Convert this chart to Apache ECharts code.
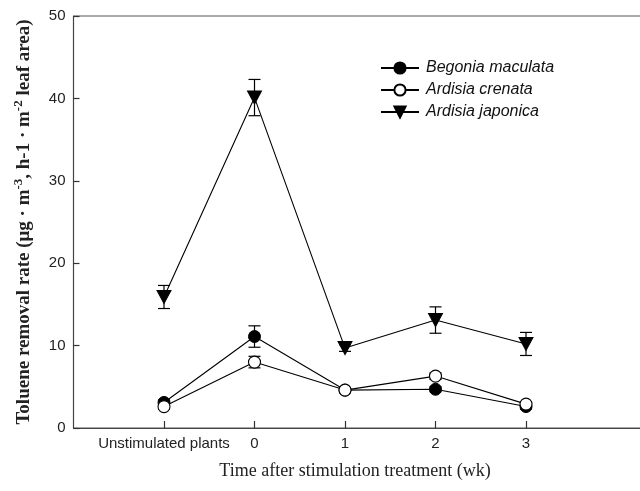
<!DOCTYPE html>
<html>
<head>
<meta charset="utf-8">
<script src="https://cdn.jsdelivr.net/npm/echarts@6/dist/echarts.min.js"></script>
<style>
  html, body { margin: 0; padding: 0; background: #fff; }
  #chart { width: 640px; height: 491px; }
</style>
</head>
<body>
<div id="chart"></div>
<script>
// Sampling times (x positions 1..5 on the value axis)
const categories = ['Unstimulated plants', '0', '1', '2', '3'];

// Toluene removal rate, mean and standard error per species
const begonia = [3.1, 11.1, 4.6, 4.7, 2.6];
const begoniaErr = [0.3, 1.3, 0.3, 0.3, 0.3];
const crenata = [2.6, 8.0, 4.6, 6.3, 2.9];
const crenataErr = [0.3, 0.7, 0.2, 0.4, 0.3];
const japonica = [15.9, 40.1, 9.7, 13.1, 10.2];
const japonicaErr = [1.4, 2.2, 0.4, 1.6, 1.4];

const yTicks = [0, 10, 20, 30, 40, 50];

const pts = vals => vals.map((v, i) => [i + 1, v]);
const errPts = (vals, errs) => vals.map((v, i) => [i + 1, v - errs[i], v + errs[i]]);

function errorBars(name, vals, errs) {
  return {
    type: 'custom',
    name: name + ' SE',
    data: errPts(vals, errs),
    z: 1,
    silent: true,
    renderItem: function (params, api) {
      const x = api.value(0);
      const lo = api.coord([x, api.value(1)]);
      const hi = api.coord([x, api.value(2)]);
      const cap = 6;
      const st = { stroke: '#000', lineWidth: 1.2 };
      return {
        type: 'group',
        children: [
          { type: 'line', shape: { x1: lo[0], y1: lo[1], x2: hi[0], y2: hi[1] }, style: st },
          { type: 'line', shape: { x1: lo[0] - cap, y1: lo[1], x2: lo[0] + cap, y2: lo[1] }, style: st },
          { type: 'line', shape: { x1: hi[0] - cap, y1: hi[1], x2: hi[0] + cap, y2: hi[1] }, style: st }
        ]
      };
    }
  };
}

const lineBase = {
  type: 'line',
  lineStyle: { color: '#000', width: 1.1 },
  z: 3
};

const chart = echarts.init(document.getElementById('chart'), null, { renderer: 'canvas' });

chart.setOption({
  animation: false,
  backgroundColor: '#fff',
  grid: {
    left: 73.5, top: 16, right: -21.75, bottom: 63,
    outerBoundsMode: 'none',
    containLabel: false,
    show: true, borderColor: '#555', borderWidth: 1
  },
  legend: {
    orient: 'vertical',
    left: 380,
    top: 60,
    padding: 0,
    itemWidth: 38,
    itemHeight: 14,
    itemGap: 6,
    data: ['Begonia maculata', 'Ardisia crenata', 'Ardisia japonica'],
    textStyle: { fontFamily: 'Liberation Sans, Arial, sans-serif', fontSize: 16, fontStyle: 'italic', color: '#111', padding: [0, 0, 0, 2] }
  },
  xAxis: {
    type: 'value',
    min: 0,
    max: 6.5,
    interval: 1,
    splitLine: { show: false },
    axisLine: { lineStyle: { color: '#444', width: 1.2 } },
    axisTick: {
      inside: true, length: 7, customValues: [1, 2, 3, 4, 5],
      lineStyle: { color: '#333', width: 1.2 }
    },
    axisLabel: {
      customValues: [1, 2, 3, 4, 5],
      formatter: v => categories[Math.round(v) - 1] || '',
      fontFamily: 'Liberation Sans, Arial, sans-serif',
      fontSize: 15, color: '#222', margin: 8
    }
  },
  yAxis: {
    type: 'value',
    min: 0, max: 50, interval: 10,
    splitLine: { show: false },
    axisLine: { show: true, lineStyle: { color: '#444', width: 1.2 } },
    axisTick: { show: true, inside: true, length: 6, lineStyle: { color: '#333', width: 1.2 } },
    axisLabel: {
      customValues: yTicks,
      fontFamily: 'Liberation Sans, Arial, sans-serif',
      fontSize: 15, color: '#222', margin: 8
    },
    name: '{b|Toluene removal rate (μg · m}{s|-3}{b|, h-1 · m}{s|-2}{b| leaf area)}',
    nameLocation: 'middle',
    nameRotate: 90,
    nameGap: 38,
    nameTextStyle: {
      rich: {
        b: { fontFamily: 'Liberation Serif, Times New Roman, serif', fontWeight: 'bold', fontSize: 19, color: '#222' },
        s: { fontFamily: 'Liberation Serif, Times New Roman, serif', fontWeight: 'bold', fontSize: 13, color: '#222', verticalAlign: 'bottom', padding: [0, 0, 10, 0] }
      }
    }
  },
  graphic: [{
    type: 'text',
    x: 355, y: 471,
    style: {
      text: 'Time after stimulation treatment (wk)',
      align: 'center', verticalAlign: 'middle',
      fontFamily: 'Liberation Serif, Times New Roman, serif',
      fontSize: 18, fill: '#222'
    }
  }],
  series: [
    errorBars('Begonia maculata', begonia, begoniaErr),
    errorBars('Ardisia crenata', crenata, crenataErr),
    errorBars('Ardisia japonica', japonica, japonicaErr),
    Object.assign({}, lineBase, {
      name: 'Begonia maculata',
      data: pts(begonia),
      symbol: 'circle', symbolSize: 12,
      itemStyle: { color: '#000', borderColor: '#000', borderWidth: 1 }
    }),
    Object.assign({}, lineBase, {
      name: 'Ardisia crenata',
      data: pts(crenata),
      symbol: 'circle', symbolSize: 12,
      itemStyle: { color: '#fff', borderColor: '#000', borderWidth: 1.1 }
    }),
    Object.assign({}, lineBase, {
      name: 'Ardisia japonica',
      data: pts(japonica),
      symbol: 'triangle', symbolSize: [14, 13], symbolRotate: 180,
      itemStyle: { color: '#000', borderColor: '#000', borderWidth: 1 }
    })
  ]
});
</script>
</body>
</html>
